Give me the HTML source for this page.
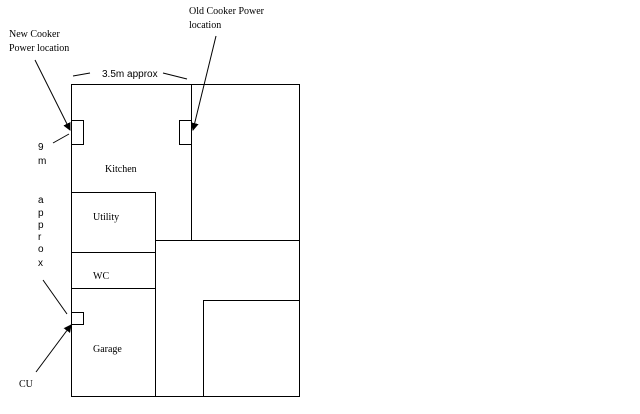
<!DOCTYPE html>
<html><head><style>
body{margin:0;background:#fff;width:640px;height:409px;overflow:hidden}
</style></head><body>
<svg width="640" height="409" xmlns="http://www.w3.org/2000/svg">
<defs><marker id="a" markerWidth="8" markerHeight="8" refX="7" refY="4" orient="auto" markerUnits="userSpaceOnUse"><path d="M0,0 L8,4 L0,8 z" fill="#000"/></marker></defs>
<g fill="none" stroke="#000" stroke-width="1">
<rect x="71.5" y="84.5" width="228" height="312"/>
<line x1="191.5" y1="84" x2="191.5" y2="240"/>
<line x1="155" y1="240.5" x2="299" y2="240.5"/>
<rect x="71.5" y="192.5" width="84" height="204"/>
<line x1="71" y1="252.5" x2="155" y2="252.5"/>
<line x1="71" y1="288.5" x2="155" y2="288.5"/>
<rect x="203.5" y="300.5" width="96" height="96"/>
<rect x="71.5" y="120.5" width="12" height="24"/>
<rect x="179.5" y="120.5" width="12" height="24"/>
<rect x="71.5" y="312.5" width="12" height="12"/>
<line x1="35" y1="60" x2="70" y2="130" marker-end="url(#a)"/>
<line x1="216" y1="36" x2="193" y2="130" marker-end="url(#a)"/>
<line x1="36" y1="372" x2="71" y2="325" marker-end="url(#a)"/>
<line x1="53" y1="143" x2="69" y2="134"/>
<line x1="43" y1="280" x2="67" y2="314"/>
<line x1="73" y1="76" x2="90" y2="73"/>
<line x1="163" y1="73" x2="187" y2="79"/>
</g>
<g font-family="Liberation Serif, serif" font-size="10" fill="#000">
<text x="9" y="37">New Cooker</text>
<text x="9" y="51">Power location</text>
<text x="189" y="14">Old Cooker Power</text>
<text x="189" y="28">location</text>
<text x="105" y="172">Kitchen</text>
<text x="93" y="220">Utility</text>
<text x="93" y="279">WC</text>
<text x="93" y="352">Garage</text>
<text x="19" y="387">CU</text>
</g>
<g font-family="Liberation Sans, sans-serif" font-size="10" fill="#000">
<text x="102" y="77">3.5m approx</text>
<text x="38" y="150">9</text>
<text x="38" y="164">m</text>
<text x="38" y="203">a</text>
<text x="38" y="216">p</text>
<text x="38" y="228">p</text>
<text x="38" y="240">r</text>
<text x="38" y="252">o</text>
<text x="38" y="266">x</text>
</g>
</svg>
</body></html>
